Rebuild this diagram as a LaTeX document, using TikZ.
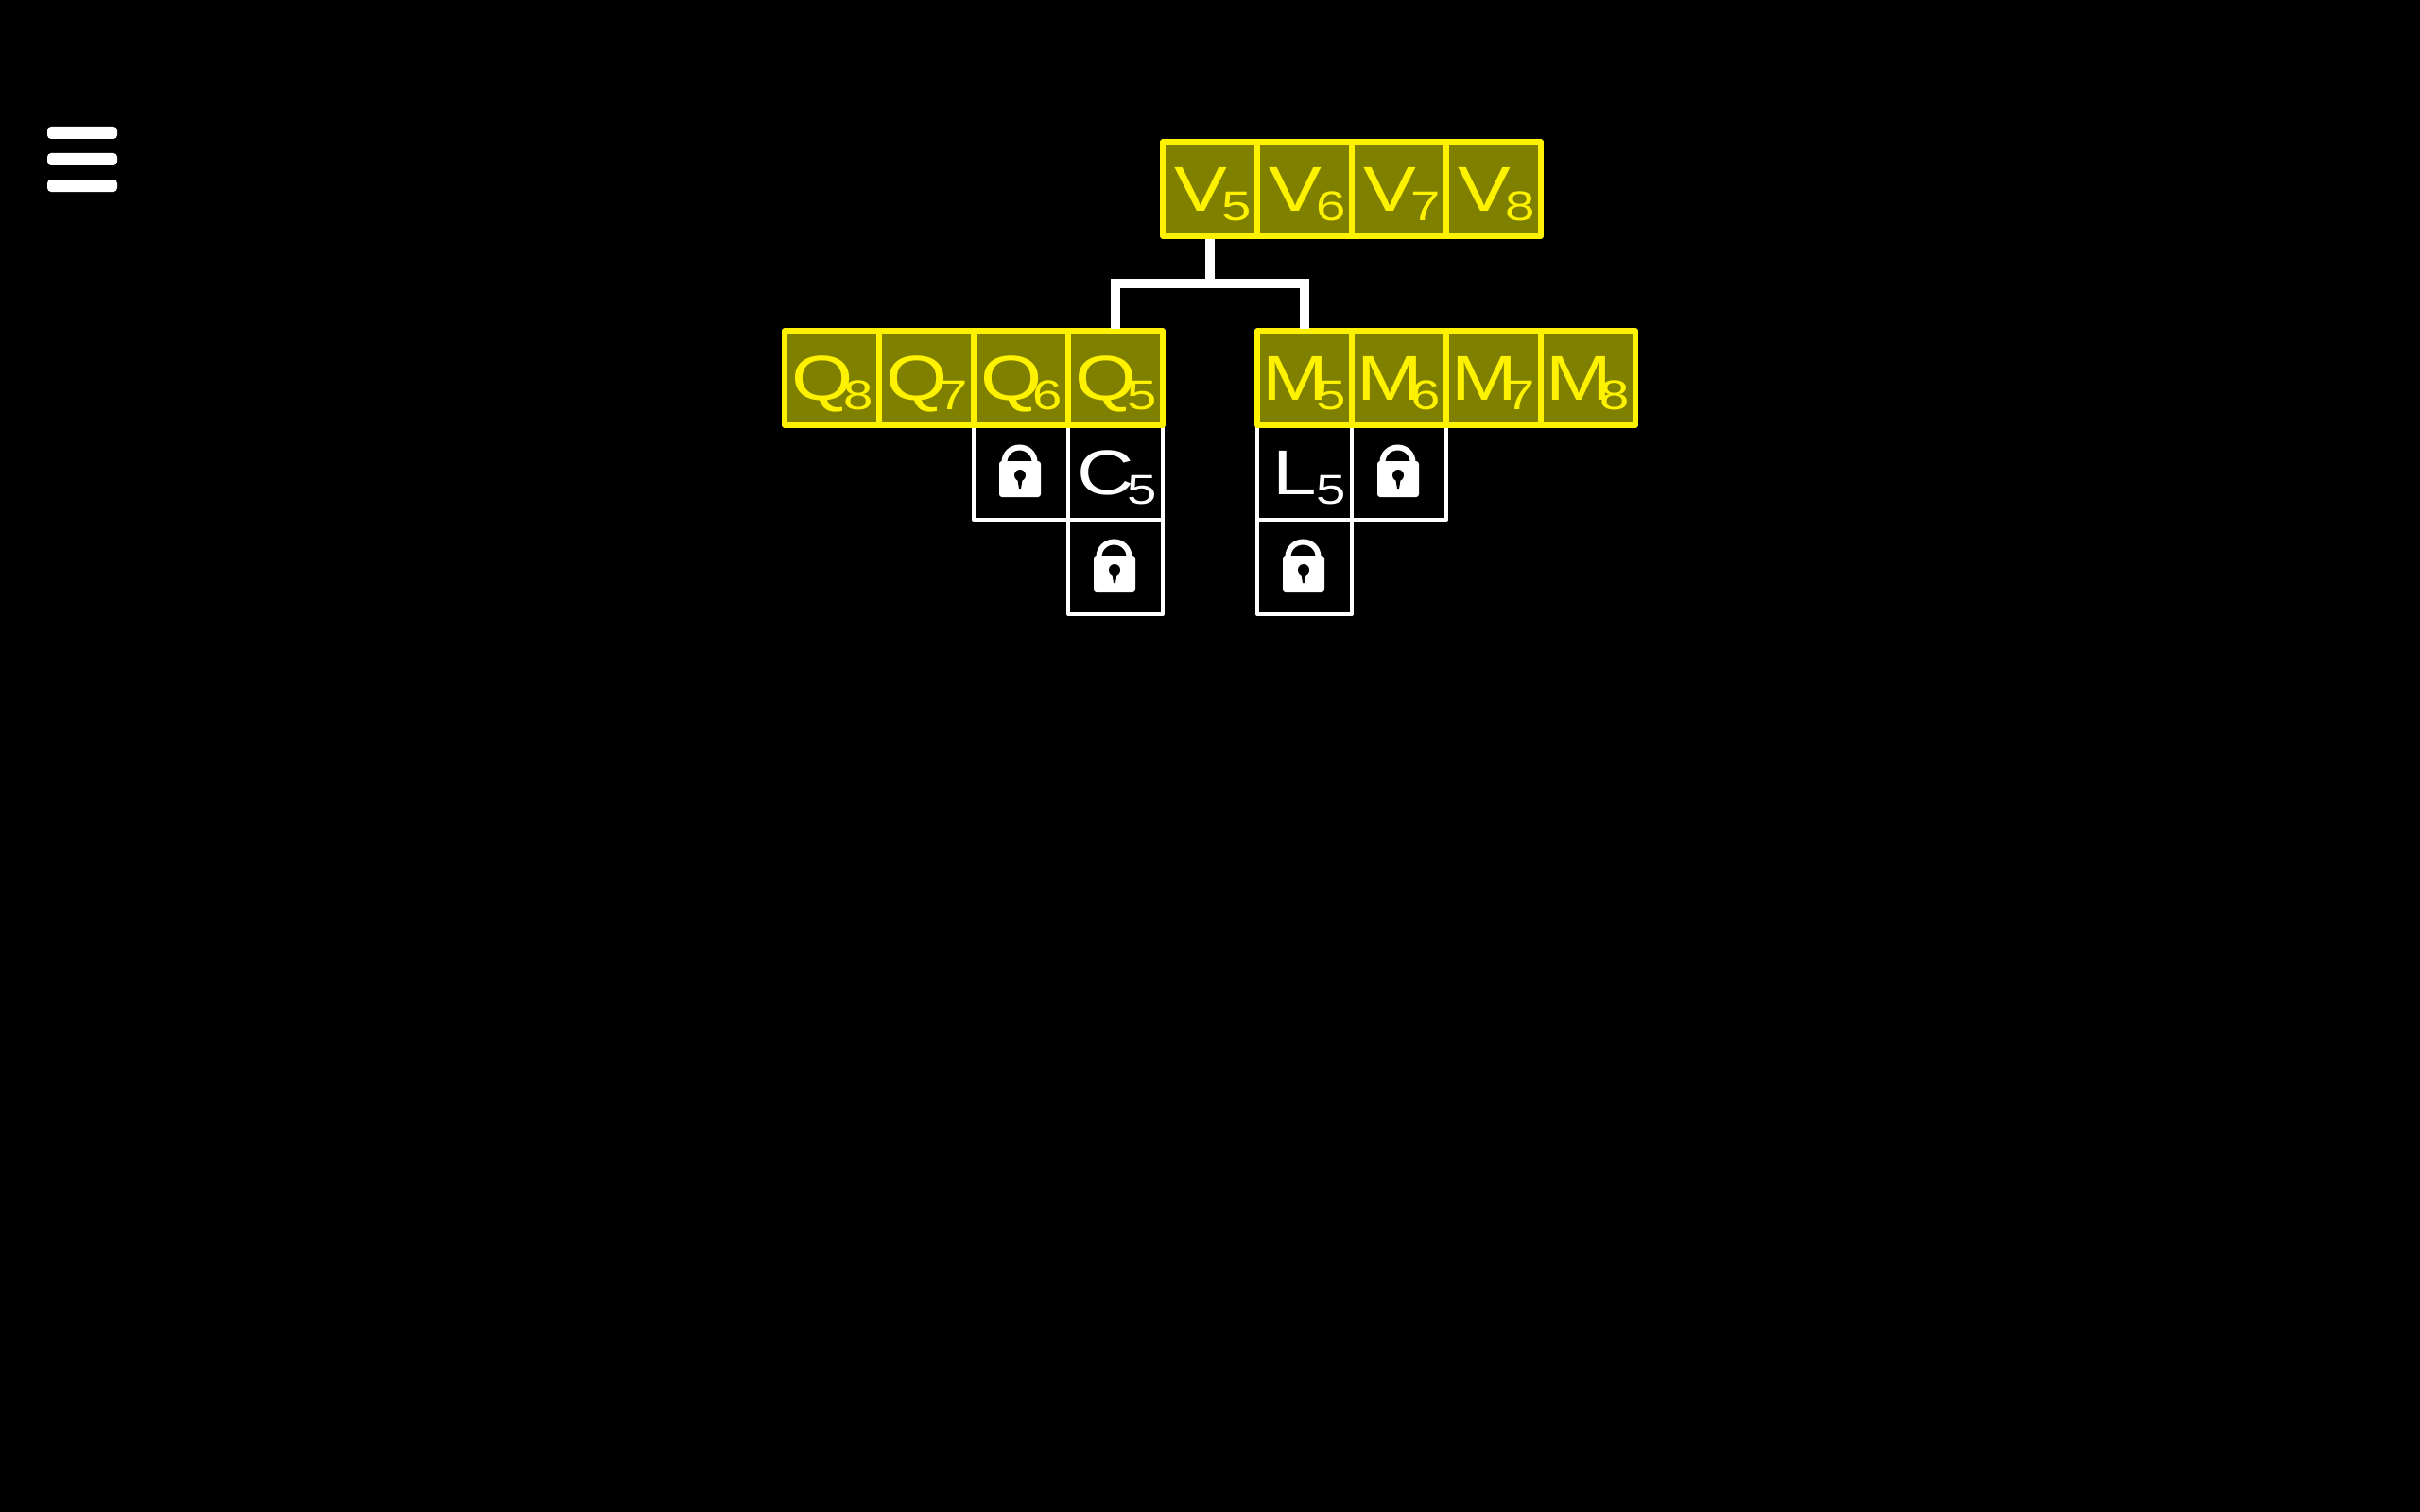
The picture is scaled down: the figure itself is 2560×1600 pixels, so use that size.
\documentclass[tikz,border=0pt]{standalone}
\usepackage{fontspec}
\newfontfamily\cellfont[FakeStretch=1.25]{Liberation Sans}
\newfontfamily\indexfont[FakeStretch=1.28]{Liberation Sans}
\usetikzlibrary{chains,positioning}
% letter with its index, each in a fixed slot of the cell
\newcommand{\cellname}[2]{\raisebox{-11.5pt}[0pt][0pt]{%
    \makebox[0pt]{\hspace{-10pt}\fontsize{33.5}{33.5}\cellfont #1}%
    \raisebox{-5pt}{\makebox[0pt]{\hspace{28pt}\fontsize{22}{22}\indexfont #2}}}}
\begin{document}
\begin{tikzpicture}[
    x=0.5pt,y=-0.5pt,
    node distance=0pt,
    % define styles
    lockcell/.style={
        draw=white,
        fill=black,
        line width=2pt,
        line join=round,
        text=white,
        minimum size=50pt,
        inner sep=0pt,
        outer sep=0pt
    },
    keycell/.style={
        lockcell,
        draw=yellow,
        fill=olive80,
        line width=2.75pt,
        text=yellow
    },
    menubar/.style={
        fill=white,
        rounded corners=2pt,
        minimum width=37pt,
        minimum height=6.5pt,
        inner sep=0pt
    },
    link/.style={
        draw=white,
        line width=5pt,
        shorten <=1.25pt,
        shorten >=1.25pt
    },
    padlock/.pic={
        \fill[white,rounded corners=1.5pt] (-23,-12) rectangle (21,26);
        \draw[white,line width=3pt] (-17.5,-11) arc (180:360:16 and 15.5);
        \fill[black] (-1,3) circle (3pt);
        \fill[black] (-4,5) -- (2,5) -- (0,17) -- (-2,17) -- cycle;
    }
]
\definecolor{olive80}{HTML}{808000}
\fill[black] (0,0) rectangle (2560,1600);
\useasboundingbox (0,0) rectangle (2560,1600);
% Menu icon
\node[menubar] at (87,140.5) (menu1) {};
\node[menubar] at (87,168.5) (menu2) {};
\node[menubar] at (87,196.5) (menu3) {};
% Left column under Q
\begin{scope}[start chain=1 going left]
    \node[on chain=1,lockcell] at (1180,500) (c5) {\cellname{C}{5}};
    \node[on chain=1,lockcell] (lockq6) {};
\end{scope}
\node[lockcell,below=of c5] (lockq5) {};
% Right column under M
\begin{scope}[start chain=2 going right]
    \node[on chain=2,lockcell] at (1380,500) (l5) {\cellname{L}{5}};
    \node[on chain=2,lockcell] (lockm6) {};
\end{scope}
\node[lockcell,below=of l5] (lockm5) {};
% Padlocks
\pic at (lockq6) {padlock};
\pic at (lockq5) {padlock};
\pic at (lockm6) {padlock};
\pic at (lockm5) {padlock};
% Top chain V
\begin{scope}[start chain=3 going right]
    \node[on chain=3,keycell] at (1280,200) (v5) {\cellname{V}{5}};
    \node[on chain=3,keycell] (v6) {\cellname{V}{6}};
    \node[on chain=3,keycell] (v7) {\cellname{V}{7}};
    \node[on chain=3,keycell] (v8) {\cellname{V}{8}};
\end{scope}
% Chain Q runs to the left
\begin{scope}[start chain=4 going left]
    \node[on chain=4,keycell,above=of c5] (q5) {\cellname{Q}{5}};
    \node[on chain=4,keycell] (q6) {\cellname{Q}{6}};
    \node[on chain=4,keycell] (q7) {\cellname{Q}{7}};
    \node[on chain=4,keycell] (q8) {\cellname{Q}{8}};
\end{scope}
% Chain M
\begin{scope}[start chain=5 going right]
    \node[on chain=5,keycell,above=of l5] (m5) {\cellname{M}{5}};
    \node[on chain=5,keycell] (m6) {\cellname{M}{6}};
    \node[on chain=5,keycell] (m7) {\cellname{M}{7}};
    \node[on chain=5,keycell] (m8) {\cellname{M}{8}};
\end{scope}
% Fork from V to Q and M
\coordinate (fork) at (1280,300);
\draw[link] (v5.south) -- (fork);
\draw[link] (q5.north) |- (fork) -| (m5.north);
\end{tikzpicture}
\end{document}
